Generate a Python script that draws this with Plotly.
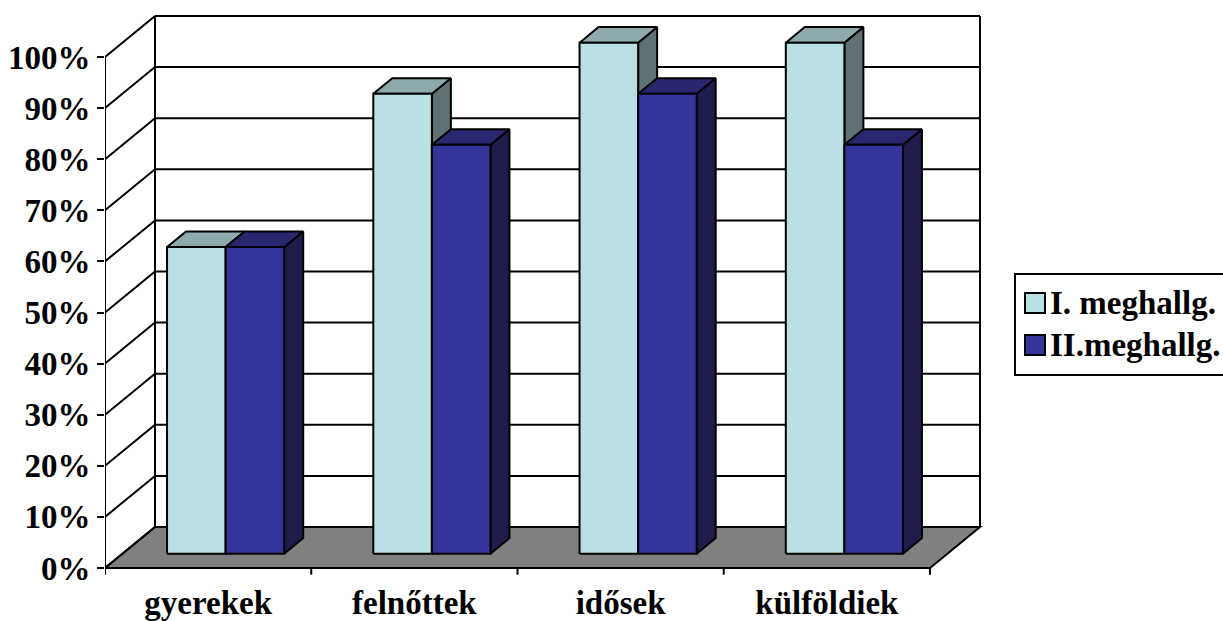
import plotly.graph_objects as go

# ---------------- data ----------------
categories = ["gyerekek", "felnőttek", "idősek", "külföldiek"]
series_names = ["I. meghallg.", "II.meghallg."]
values_I = [60, 90, 100, 100]
values_II = [60, 80, 90, 80]
y_tick_values = [0, 10, 20, 30, 40, 50, 60, 70, 80, 90, 100]
y_tick_labels = [f"{v}%" for v in y_tick_values]

# ---------------- styling / geometry ----------------
W_FIG, H_FIG = 1223, 621
M_L, M_R, M_T, M_B = 105, 231, 6, 43
PX_PER_CAT = 206.25           # pixels per category on the front plane
PX_PER_PCT = 5.11             # pixels per percent
DEPTH_PX_X, DEPTH_PX_Y = 50, 41
DX = DEPTH_PX_X / PX_PER_CAT  # oblique depth offset in x units
DY = DEPTH_PX_Y / PX_PER_PCT  # oblique depth offset in y units
BW = 0.284                    # bar width (category units)
F0, F1 = 0.35, 0.73           # bar front / back depth fractions

FONT = "Liberation Serif"
FS = 33
LW = 2
colors_front = ["#B9E0E3", "#35349A"]
colors_top = ["#8FAAAC", "#282770"]
colors_side = ["#5F7172", "#1D1C4C"]
FLOOR = "#808080"

plot_w = W_FIG - M_L - M_R
plot_h = H_FIG - M_T - M_B
x_range = [0, plot_w / PX_PER_CAT]
y_zero_px = 568
y_range = [-(H_FIG - M_B - y_zero_px) / PX_PER_PCT, (y_zero_px - M_T) / PX_PER_PCT]

n = len(categories)
max_v = y_tick_values[-1]


def P(x, v, f):
    return x + f * DX, v + f * DY


fig = go.Figure()
shapes = []


def line(x0, y0, x1, y1):
    shapes.append(dict(type="line", xref="x", yref="y", x0=x0, y0=y0, x1=x1, y1=y1,
                       line=dict(color="black", width=LW), layer="below"))


# floor
fx = [0, n, n + DX, DX]
fy = [0, 0, DY, DY]
path = "M " + " L ".join(f"{a},{b}" for a, b in zip(fx, fy)) + " Z"
shapes.append(dict(type="path", xref="x", yref="y", path=path, fillcolor=FLOOR,
                   line=dict(color="black", width=LW), layer="below"))
# back wall gridlines + left wall diagonals
for v in y_tick_values:
    line(DX, v + DY, n + DX, v + DY)
    line(0, v, DX, v + DY)
# wall verticals
line(DX, DY, DX, max_v + DY)
line(n + DX, DY, n + DX, max_v + DY)
# front y axis
line(0, 0, 0, max_v)
# front x axis & tick marks
line(0, 0, n, 0)
for i in range(n + 1):
    line(i, 0, i, -1.3)

# bars as oblique prisms
all_values = [values_I, values_II]
for s, vals in enumerate(all_values):
    faces = {"side": ([], [], colors_side[s]), "top": ([], [], colors_top[s]), "front": ([], [], colors_front[s])}
    for i, v in enumerate(vals):
        x0 = i + 0.5 - BW + s * BW
        x1 = x0 + BW
        polys = {
            "front": [P(x0, 0, F0), P(x1, 0, F0), P(x1, v, F0), P(x0, v, F0)],
            "top": [P(x0, v, F0), P(x1, v, F0), P(x1, v, F1), P(x0, v, F1)],
            "side": [P(x1, 0, F0), P(x1, 0, F1), P(x1, v, F1), P(x1, v, F0)],
        }
        for k, pts in polys.items():
            xs, ys, _ = faces[k]
            pts = pts + [pts[0]]
            xs += [p[0] for p in pts] + [None]
            ys += [p[1] for p in pts] + [None]
    for k in ["side", "top", "front"]:
        xs, ys, c = faces[k]
        fig.add_trace(go.Scatter(x=xs, y=ys, mode="lines", fill="toself", fillcolor=c,
                                 line=dict(color="black", width=LW), showlegend=False,
                                 hoverinfo="skip", name=series_names[s]))

# manual legend (paper coords)
def pxx(px):
    return (px - M_L) / plot_w


def pxy(py):
    return (H_FIG - M_B - py) / plot_h


shapes.append(dict(type="rect", xref="paper", yref="paper", x0=pxx(1015), x1=pxx(1240),
                   y0=pxy(375), y1=pxy(274), line=dict(color="black", width=LW), fillcolor="white"))
annotations = []
for s, name in enumerate(series_names):
    cy = 303 + s * 42
    shapes.append(dict(type="rect", xref="paper", yref="paper", x0=pxx(1025), x1=pxx(1045),
                       y0=pxy(cy + 10), y1=pxy(cy - 10), line=dict(color="black", width=LW),
                       fillcolor=colors_front[s]))
    annotations.append(dict(xref="paper", yref="paper", x=pxx(1048), y=pxy(cy), text=f"<b>{name}</b>",
                            showarrow=False, xanchor="left", yanchor="middle",
                            font=dict(family=FONT, size=FS, color="black")))

fig.update_layout(
    width=W_FIG, height=H_FIG, autosize=False,
    margin=dict(l=M_L, r=M_R, t=M_T, b=M_B, autoexpand=False),
    paper_bgcolor="white", plot_bgcolor="white",
    shapes=shapes, annotations=annotations, showlegend=False,
    font=dict(family=FONT, size=FS, color="black"),
    xaxis=dict(range=x_range, tickvals=[i + 0.5 for i in range(n)],
               ticktext=[f"<b>{c}</b>" for c in categories], ticks="", showline=False,
               showgrid=False, zeroline=False, fixedrange=True, ticklabelstandoff=2,
               automargin=False, tickfont=dict(family=FONT, size=FS, color="black")),
    yaxis=dict(range=y_range, tickvals=y_tick_values, ticktext=[f"<b>{t}</b>" for t in y_tick_labels],
               ticks="outside", ticklen=7, tickwidth=LW, tickcolor="black", showline=False,
               showgrid=False, zeroline=False, fixedrange=True, automargin=False,
               tickfont=dict(family=FONT, size=FS, color="black")),
)

fig.write_html("out.html")
